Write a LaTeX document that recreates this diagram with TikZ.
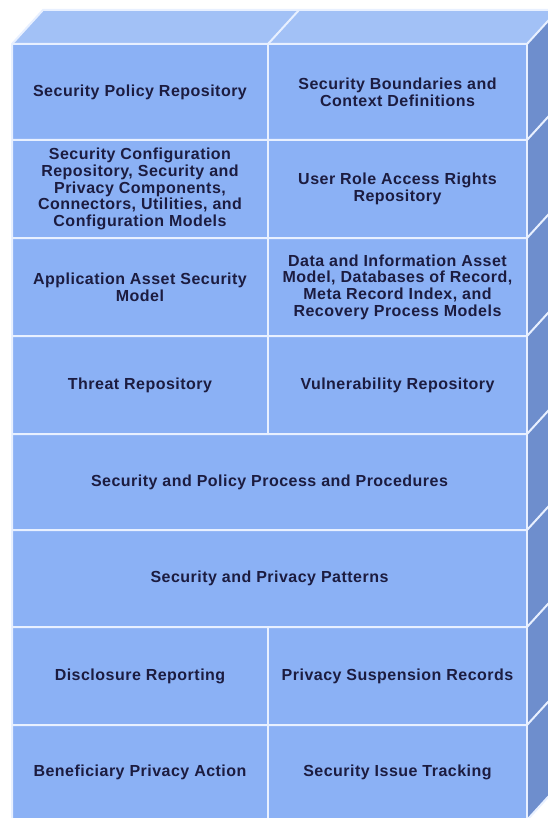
\documentclass[tikz,border=0pt]{standalone}
\usepackage{fontspec}
\setmainfont{Liberation Sans}[LetterSpace=3]
\definecolor{frontc}{RGB}{139,177,245}
\definecolor{topc}{RGB}{162,193,246}
\definecolor{sidec}{RGB}{110,142,205}
\definecolor{linec}{RGB}{232,240,255}
\definecolor{txtc}{RGB}{28,28,64}
\begin{document}
\begin{tikzpicture}[x=1pt,y=-1pt,
  cell/.style={font=\fontsize{16}{16.7}\selectfont\bfseries, text=txtc, align=center, inner sep=0pt},
  sep/.style={draw=linec, line width=2pt}]
\useasboundingbox (0,0) rectangle (548,818);
\begin{scope}
\clip (0,0) rectangle (548,818);
\fill[white] (0,0) rectangle (548,818);
% corners
\coordinate (fl) at (12,44);
\coordinate (fr) at (527,44);
\coordinate (bl) at (43,10);
\coordinate (br) at (558,10);
\coordinate (fm) at (268,44);
\coordinate (bm) at (299,10);
\fill[topc] (fl) -- (bl) -- (br) -- (fr) -- cycle;
\fill[sidec] (fr) -- (br) -- (558,786) -- (527,820) -- cycle;
\fill[frontc] (12,44) rectangle (527,830);
% outline
\draw[sep] (12,830) -- (fl) -- (bl) -- (br);
\draw[sep] (fl) -- (fr) -- (br);
\draw[sep] (fm) -- (bm);
\draw[sep] (fr) -- (527,830);
\draw[sep] (527,820) -- (558,786);
% row boundaries
\foreach \y in {140,238,336,434,530,627,725}{
  \draw[sep] (12,\y) -- (527,\y) -- (558,\y-34);
}
% vertical dividers
\draw[sep] (268,44) -- (268,434);
\draw[sep] (268,627) -- (268,830);
\end{scope}
% texts
\node[cell] (c11) at (140,92) {Security Policy Repository};
\node[cell] (c12) at (397.5,92) {Security Boundaries and\\Context Definitions};
\node[cell] (c21) at (140,189) {Security Configuration\\Repository, Security and\\Privacy Components,\\Connectors, Utilities, and\\Configuration Models};
\node[cell] (c22) at (397.5,189) {User Role Access Rights\\Repository};
\node[cell] (c31) at (140,287) {Application Asset Security\\Model};
\node[cell] (c32) at (397.5,287) {Data and Information Asset\\Model, Databases of Record,\\Meta Record Index, and\\Recovery Process Models};
\node[cell] (c41) at (140,385) {Threat Repository};
\node[cell] (c42) at (397.5,385) {Vulnerability Repository};
\node[cell] (c5) at (269.5,482) {Security and Policy Process and Procedures};
\node[cell] (c6) at (269.5,578.5) {Security and Privacy Patterns};
\node[cell] (c71) at (140,676) {Disclosure Reporting};
\node[cell] (c72) at (397.5,676) {Privacy Suspension Records};
\node[cell] (c81) at (140,772) {Beneficiary Privacy Action};
\node[cell] (c82) at (397.5,772) {Security Issue Tracking};
\end{tikzpicture}
\end{document}
